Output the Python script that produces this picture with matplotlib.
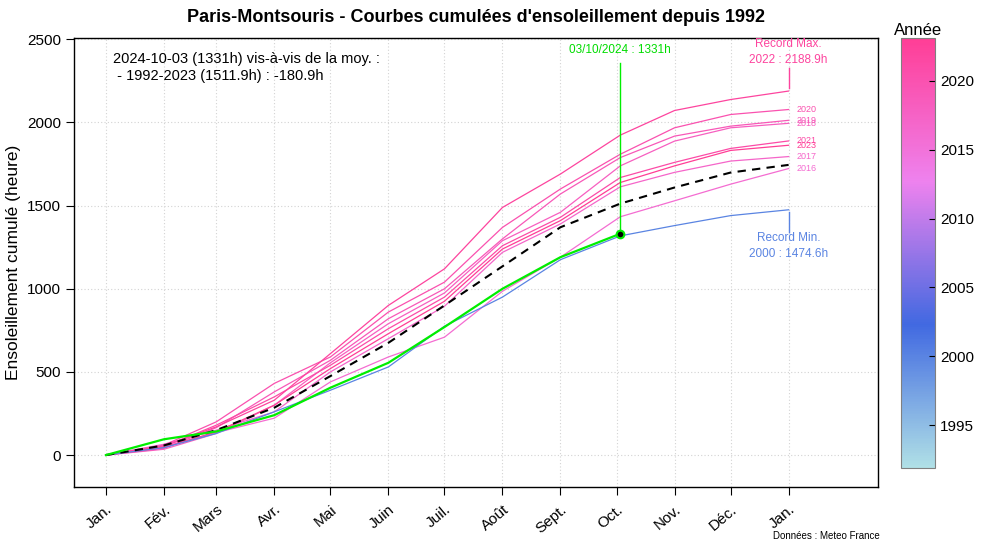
import numpy as np
import matplotlib
matplotlib.use("Agg")
import matplotlib.pyplot as plt
from matplotlib.colors import LinearSegmentedColormap, Normalize
from matplotlib.colorbar import ColorbarBase

plt.rcParams['font.family'] = ['Liberation Sans', 'DejaVu Sans']

# day-of-year anchors (1 Jan, 1 Feb, ..., 3 Oct, 1 Nov, 1 Dec, 31 Dec)
days = [0, 31, 59, 90, 120, 151, 181, 212, 243, 275, 304, 334, 365]

# cumulative sunshine (h)
years = [2016, 2017, 2018, 2019, 2020, 2021, 2022, 2023]
y2016 = [0, 50, 135, 222, 440, 590, 709, 985, 1190, 1433, 1529, 1629, 1723]
y2017 = [0, 65, 150, 260, 500, 700, 895, 1219, 1390, 1613, 1700, 1768, 1795]
y2018 = [0, 35, 130, 300, 555, 790, 975, 1289, 1460, 1739, 1888, 1968, 1995]
y2019 = [0, 40, 165, 380, 570, 820, 1000, 1300, 1570, 1789, 1918, 1978, 2013]
y2020 = [0, 60, 200, 431, 590, 860, 1040, 1369, 1600, 1809, 1968, 2048, 2078]
y2021 = [0, 50, 180, 350, 540, 760, 950, 1259, 1430, 1669, 1760, 1844, 1889]
y2022 = [0, 55, 170, 330, 610, 900, 1120, 1489, 1690, 1924, 2072, 2138, 2189]
y2023 = [0, 45, 140, 300, 520, 730, 925, 1239, 1410, 1639, 1739, 1832, 1863]
pinks = [y2016, y2017, y2018, y2019, y2020, y2021, y2022, y2023]

y2000 = [0, 45, 130, 260, 390, 530, 775, 950, 1175, 1318, 1380, 1440, 1475]
y2024 = [0, 95, 142, 240, 405, 555, 770, 1000, 1190, 1331]
mean_9223 = [0, 58, 150, 285, 475, 675, 900, 1135, 1370, 1512, 1609, 1699, 1745]

month_ticks = [0, 31, 59, 90, 120, 151, 181, 212, 243, 273, 304, 334, 365]
month_labels = ["Jan.", "Fév.", "Mars", "Avr.", "Mai", "Juin", "Juil.", "Août",
                "Sept.", "Oct.", "Nov.", "Déc.", "Jan."]

cmap = LinearSegmentedColormap.from_list(
    "annee", ["#B0E0E6", "#4169E1", "#EE82EE", "#FF3E96"])
norm = Normalize(vmin=1991.9, vmax=2023.1)


def col(yr):
    return cmap((yr - 1992) / (2023 - 1992))


fig = plt.figure(figsize=(10, 5.45), dpi=100)
ax = fig.add_axes([0.074, 1 - 487 / 545, 0.804, 449 / 545])

for yr, vals in zip(years, pinks):
    ax.plot(days, vals, color=col(yr), lw=0.9)
    if yr != 2022:
        ax.text(369, vals[-1], str(yr), color=col(yr), fontsize=6.5,
                ha="left", va="center")

ax.plot(days, y2000, color=col(2000), lw=0.9)
ax.plot(days, mean_9223, color="black", lw=1.5, linestyle=(0, (4, 3)))
ax.plot(days[:len(y2024)], y2024, color="#00EE00", lw=1.6)

# today's marker
ax.plot([days[len(y2024) - 1]] * 2, [y2024[-1], 2357], color="#00EE00", lw=1)
ax.plot(days[len(y2024) - 1], y2024[-1], "o", ms=5.5, mfc="black",
        mec="#00EE00", mew=1.5)
ax.text(days[len(y2024) - 1], 2436, "03/10/2024 : 1331h", color="#00DD00",
        fontsize=8.5, ha="center", va="center")

# records
ax.plot([365, 365], [2207, 2327], color=col(2022), lw=1)
ax.text(365, 2472, "Record Max.", color=col(2022), fontsize=8.5, ha="center", va="center")
ax.text(365, 2376, "2022 : 2188.9h", color=col(2022), fontsize=8.5, ha="center", va="center")
ax.plot([365, 365], [1341, 1461], color=col(2000), lw=1)
ax.text(365, 1305, "Record Min.", color=col(2000), fontsize=8.5, ha="center", va="center")
ax.text(365, 1209, "2000 : 1474.6h", color=col(2000), fontsize=8.5, ha="center", va="center")

ax.text(3.7, 2381, "2024-10-03 (1331h) vis-à-vis de la moy. :", fontsize=10.5,
        ha="left", va="center")
ax.text(3.7, 2279, " - 1992-2023 (1511.9h) : -180.9h", fontsize=10.5,
        ha="left", va="center")

ax.set_xlim(-17.1, 412.8)
ax.set_ylim(-192, 2508)
ax.set_xticks(month_ticks)
ax.set_xticklabels(month_labels, rotation=40, ha="right", rotation_mode="anchor")
ax.set_yticks([0, 500, 1000, 1500, 2000, 2500])
ax.tick_params(labelsize=11, length=6, width=0.8)
ax.tick_params(axis="x", pad=5)
ax.grid(color="#d3d3d3", linestyle=(0, (1, 2)), lw=0.8)
ax.set_axisbelow(True)
for s in ax.spines.values():
    s.set_linewidth(1)
ax.set_ylabel("Ensoleillement cumulé (heure)", fontsize=12.5)
ax.yaxis.set_label_coords(-0.066, 0.5)

fig.text(0.476, 1 - 18 / 545,
         "Paris-Montsouris - Courbes cumulées d'ensoleillement depuis 1992",
         ha="center", va="center", fontsize=13, fontweight="bold")
fig.text(0.880, 1 - 536 / 545, "Données : Meteo France", ha="right",
         va="center", fontsize=7)

cax = fig.add_axes([0.901, 1 - 468 / 545, 0.034, 430 / 545])
cb = ColorbarBase(cax, cmap=cmap, norm=norm, ticks=[1995, 2000, 2005, 2010, 2015, 2020])
cb.outline.set_edgecolor("#808080")
cb.outline.set_linewidth(0.8)
cax.tick_params(direction="in", length=4, labelsize=11, width=0.8)
cax.set_title("Année", fontsize=12, pad=2)

fig.savefig("out.png", dpi=100)
